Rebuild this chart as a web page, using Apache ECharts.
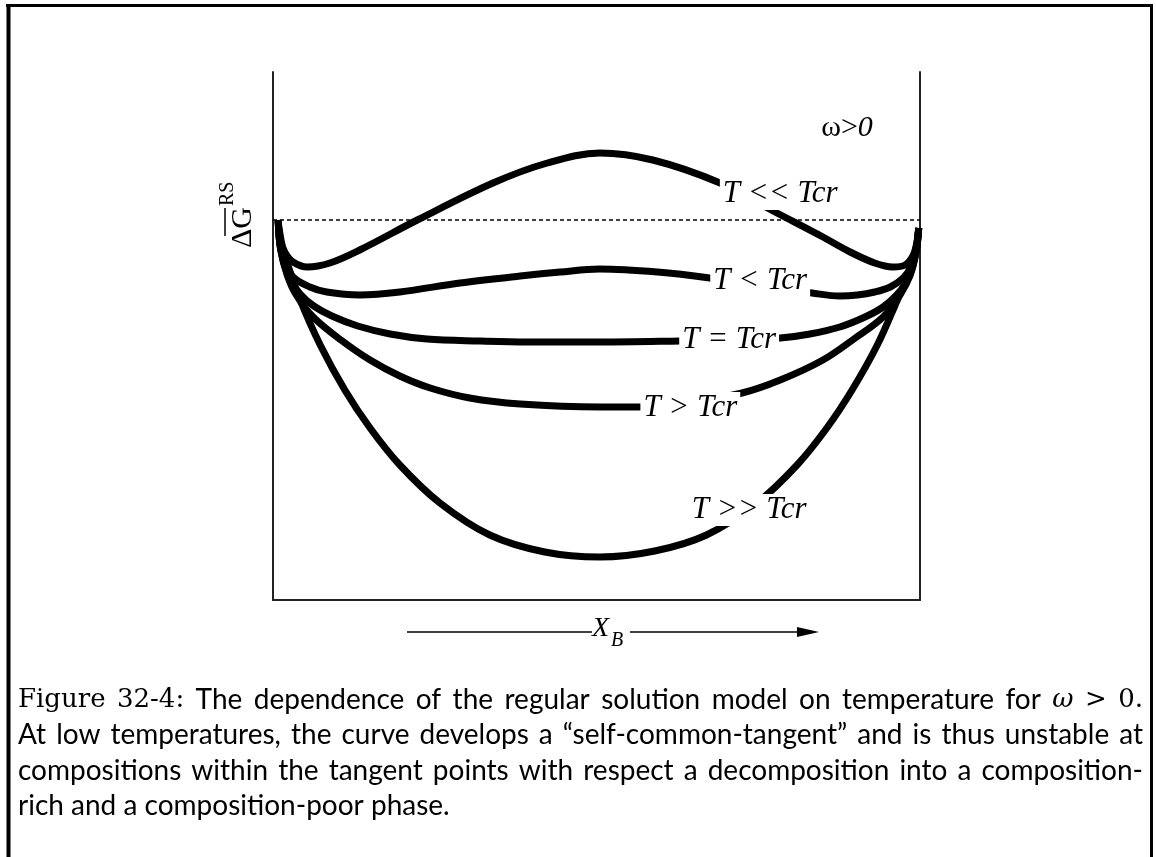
<!DOCTYPE html>
<html>
<head>
<meta charset="utf-8">
<script src="https://cdn.jsdelivr.net/npm/echarts@6/dist/echarts.min.js"></script>
<style>
html, body { margin: 0; padding: 0; background: #fff; }
#chart { width: 1156px; height: 857px; }
</style>
</head>
<body>
<div id="chart"></div>
<script>
// Free energy of mixing curves, ΔG versus composition X_B, one per temperature regime.
// Each entry is [X_B, ΔG]; ΔG = 0 is the reference level of the pure components.
const curveMuchBelowTcr = [[0.008,0],[0.011,-0.20],[0.019,-0.33],[0.031,-0.42],[0.053,-0.47],[0.088,-0.43],[0.134,-0.30],[0.223,0.00],[0.340,0.37],[0.424,0.57],[0.505,0.67],[0.587,0.60],[0.691,0.37],[0.776,0.08],[0.850,-0.17],[0.892,-0.32],[0.930,-0.43],[0.958,-0.47],[0.977,-0.45],[0.989,-0.36],[0.995,-0.23],[0.998,-0.08]];
const curveBelowTcr = [[0.008,0],[0.011,-0.25],[0.019,-0.42],[0.031,-0.57],[0.057,-0.67],[0.083,-0.72],[0.134,-0.75],[0.196,-0.72],[0.289,-0.63],[0.382,-0.56],[0.444,-0.52],[0.505,-0.49],[0.594,-0.52],[0.675,-0.58],[0.753,-0.66],[0.833,-0.73],[0.876,-0.76],[0.903,-0.75],[0.930,-0.72],[0.954,-0.67],[0.974,-0.58],[0.985,-0.48],[0.994,-0.30],[0.998,-0.08]];
const curveAtTcr = [[0.008,0],[0.012,-0.30],[0.025,-0.58],[0.042,-0.74],[0.063,-0.86],[0.091,-0.96],[0.131,-1.06],[0.181,-1.14],[0.238,-1.19],[0.320,-1.21],[0.393,-1.22],[0.505,-1.22],[0.629,-1.21],[0.706,-1.20],[0.784,-1.18],[0.830,-1.14],[0.876,-1.07],[0.915,-0.97],[0.943,-0.87],[0.964,-0.75],[0.978,-0.63],[0.989,-0.45],[0.995,-0.28],[0.998,-0.08]];
const curveAboveTcr = [[0.008,0],[0.012,-0.30],[0.022,-0.55],[0.036,-0.75],[0.062,-0.97],[0.105,-1.20],[0.150,-1.40],[0.196,-1.56],[0.243,-1.68],[0.304,-1.78],[0.382,-1.84],[0.505,-1.87],[0.570,-1.87],[0.645,-1.82],[0.725,-1.73],[0.784,-1.60],[0.850,-1.40],[0.900,-1.18],[0.943,-0.97],[0.969,-0.75],[0.985,-0.55],[0.994,-0.32],[0.998,-0.08]];
const curveMuchAboveTcr = [[0.008,-0.02],[0.014,-0.25],[0.023,-0.45],[0.042,-0.80],[0.073,-1.25],[0.111,-1.70],[0.150,-2.08],[0.196,-2.45],[0.258,-2.83],[0.335,-3.15],[0.420,-3.32],[0.505,-3.37],[0.590,-3.31],[0.670,-3.15],[0.748,-2.83],[0.810,-2.45],[0.856,-2.08],[0.895,-1.70],[0.934,-1.25],[0.965,-0.80],[0.985,-0.50],[0.994,-0.28],[0.998,-0.08]];

// Curve labels and where they sit on each curve
const labelText = ['T << Tcr', 'T < Tcr', 'T = Tcr', 'T > Tcr', 'T >> Tcr'];
const labelX = [0.784, 0.753, 0.705, 0.645, 0.736];
const labelY = [0.26, -0.61, -1.20, -1.88, -2.90];

// Reference level (pure components)
const referenceLevel = 0;

const captionLines = [
  'Figure 32-4: The dependence of the regular solution model on temperature for ω > 0.',
  'At low temperatures, the curve develops a “self-common-tangent” and is thus unstable at',
  'compositions within the tangent points with respect a decomposition into a composition-',
  'rich and a composition-poor phase.'
];

const chart = echarts.init(document.getElementById('chart'), null, { renderer: 'canvas' });

const SANS = '28px Lato';
const SERIF = '26px "DejaVu Serif"';
const MATH = 'italic 26px "DejaVu Serif"';
const serifWords = new Set(['Figure', '32-4:', '>', '0.']);

const measureCtx = document.createElement('canvas').getContext('2d');
function textWidth(t, font) { measureCtx.font = font; return measureCtx.measureText(t).width; }
function wordFont(w, lineIdx) {
  if (lineIdx === 0 && w === 'ω') return MATH;
  if (lineIdx === 0 && serifWords.has(w)) return SERIF;
  return SANS;
}

// Justified caption: every line but the last is spread over the full text width
function captionGraphics() {
  const left = 18, right = 1143, top = 700, lead = 35.4;
  const out = [];
  captionLines.forEach((line, i) => {
    const words = line.split(' ');
    const fonts = words.map(w => wordFont(w, i));
    const widths = words.map((w, k) => textWidth(w, fonts[k]));
    const sum = widths.reduce((a, b) => a + b, 0);
    const last = i === captionLines.length - 1;
    const gap = last ? textWidth(' ', SANS) : (right - left - sum) / (words.length - 1);
    let x = left;
    words.forEach((w, k) => {
      out.push({
        type: 'text', x: x, y: top + i * lead, silent: true,
        style: { text: w, font: fonts[k], fill: '#000', textAlign: 'left', textVerticalAlign: 'middle' }
      });
      x += widths[k] + gap;
    });
  });
  return out;
}

function curveSeries(name, data) {
  return {
    name: name, type: 'line', data: data, smooth: 0.35, symbol: 'none',
    lineStyle: { color: '#000', width: 7 }, z: 2, silent: true, animation: false
  };
}

const frameColor = '#000';
const option = {
  animation: false,
  backgroundColor: '#fff',
  grid: { left: 273, right: 236, top: 72, bottom: 257 },
  xAxis: {
    type: 'value', min: 0, max: 1,
    axisLine: { show: true, onZero: false, lineStyle: { color: '#222', width: 2 } },
    axisTick: { show: false }, axisLabel: { show: false }, splitLine: { show: false }
  },
  yAxis: [
    {
      type: 'value', min: -3.8, max: 1.48, position: 'left',
      axisLine: { show: true, onZero: false, lineStyle: { color: '#222', width: 2 } },
      axisTick: { show: false }, axisLabel: { show: false }, splitLine: { show: false }
    },
    {
      type: 'value', min: -3.8, max: 1.48, position: 'right',
      axisLine: { show: true, onZero: false, lineStyle: { color: '#222', width: 2 } },
      axisTick: { show: false }, axisLabel: { show: false }, splitLine: { show: false }
    }
  ],
  series: [
    Object.assign(curveSeries('T << Tcr', curveMuchBelowTcr), {
      markLine: {
        silent: true, symbol: 'none', label: { show: false },
        lineStyle: { color: '#000', width: 1.5, type: [4, 3] },
        data: [{ yAxis: referenceLevel }]
      }
    }),
    curveSeries('T < Tcr', curveBelowTcr),
    curveSeries('T = Tcr', curveAtTcr),
    curveSeries('T > Tcr', curveAboveTcr),
    curveSeries('T >> Tcr', curveMuchAboveTcr),
    {
      name: 'labels', type: 'scatter', symbolSize: 0, z: 10, silent: true,
      itemStyle: { opacity: 1 },
      emphasis: { disabled: true },
      data: labelText.map((t, i) => ({ name: t, value: [labelX[i], labelY[i]] })),
      label: {
        show: true, position: 'inside', formatter: p => p.name, opacity: 1,
        fontFamily: '"Liberation Serif"', fontStyle: 'italic', fontSize: 31, lineHeight: 30,
        color: '#000', backgroundColor: '#fff', padding: [1, 3]
      }
    }
  ],
  graphic: [
    // page frame
    { type: 'line', silent: true, shape: { x1: 6, y1: 5.5, x2: 1153, y2: 5.5 }, style: { stroke: frameColor, lineWidth: 3 } },
    { type: 'line', silent: true, shape: { x1: 8.5, y1: 4, x2: 8.5, y2: 857 }, style: { stroke: frameColor, lineWidth: 4 } },
    { type: 'line', silent: true, shape: { x1: 1151.5, y1: 4, x2: 1151.5, y2: 857 }, style: { stroke: frameColor, lineWidth: 3 } },
    // omega > 0
    {
      type: 'text', x: 847, y: 128, silent: true,
      style: {
        text: '{a|ω}{a|>}{b|0}', textAlign: 'center', textVerticalAlign: 'middle',
        rich: {
          a: { fontFamily: '"Liberation Serif"', fontSize: 30, fill: '#000', color: '#000' },
          b: { fontFamily: '"Liberation Serif"', fontStyle: 'italic', fontSize: 30, fill: '#000', color: '#000' }
        }
      }
    },
    // vertical axis title: overlined ΔG with superscript RS
    {
      type: 'text', x: 243, y: 248, rotation: Math.PI / 2, silent: true,
      style: { text: 'ΔG', font: '30px "Liberation Serif"', fill: '#000', textAlign: 'left', textVerticalAlign: 'middle' }
    },
    {
      type: 'text', x: 228, y: 206, rotation: Math.PI / 2, silent: true,
      style: { text: 'RS', font: '20px "Liberation Serif"', fill: '#000', textAlign: 'left', textVerticalAlign: 'middle' }
    },
    { type: 'line', silent: true, shape: { x1: 225, y1: 208, x2: 225, y2: 236 }, style: { stroke: '#000', lineWidth: 1.5 } },
    // horizontal axis arrow with X_B
    { type: 'line', silent: true, shape: { x1: 407, y1: 632, x2: 592, y2: 632 }, style: { stroke: '#000', lineWidth: 1.5 } },
    { type: 'line', silent: true, shape: { x1: 630, y1: 632, x2: 800, y2: 632 }, style: { stroke: '#000', lineWidth: 1.5 } },
    { type: 'polygon', silent: true, shape: { points: [[797, 627], [819, 632], [797, 637]] }, style: { fill: '#000' } },
    {
      type: 'text', x: 592, y: 629, silent: true,
      style: { text: 'X', font: 'italic 28px "Liberation Serif"', fill: '#000', textAlign: 'left', textVerticalAlign: 'middle' }
    },
    {
      type: 'text', x: 611, y: 641, silent: true,
      style: { text: 'B', font: 'italic 20px "Liberation Serif"', fill: '#000', textAlign: 'left', textVerticalAlign: 'middle' }
    }
  ].concat(captionGraphics())
};

chart.setOption(option);
</script>
</body>
</html>
